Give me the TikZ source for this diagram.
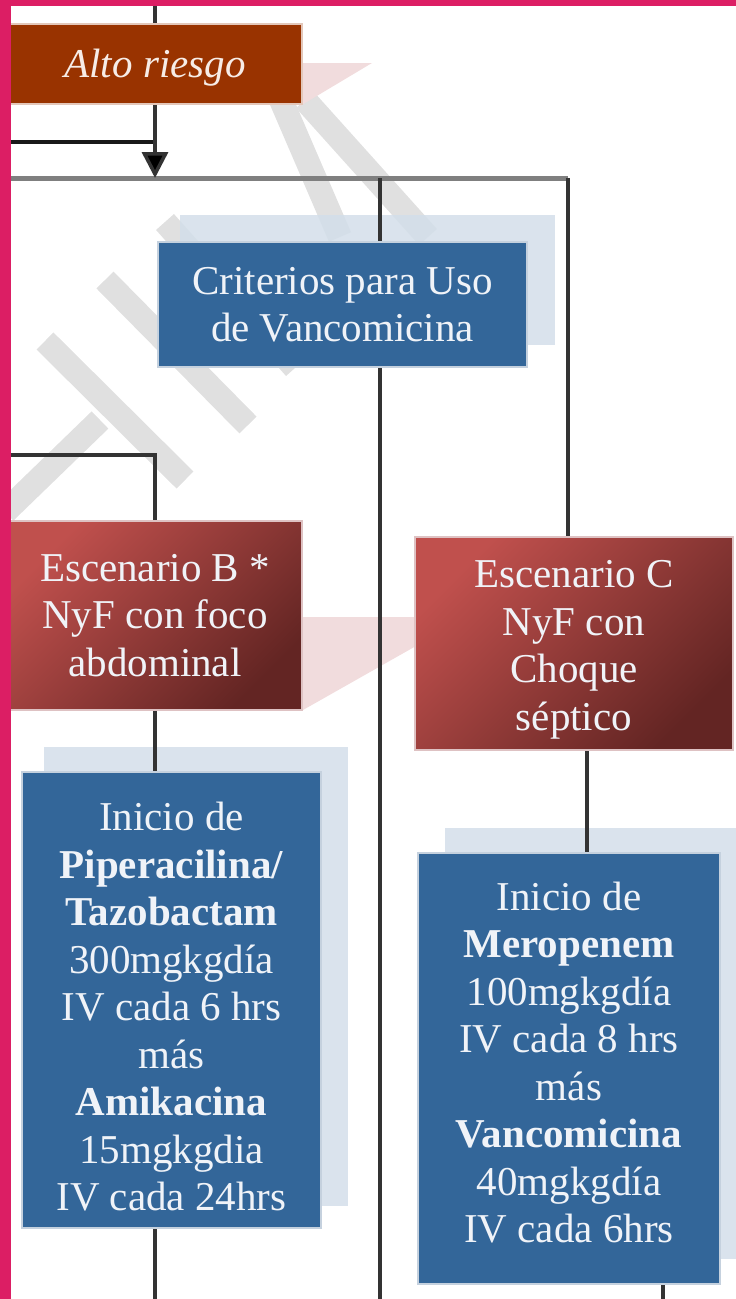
\documentclass[tikz,border=0pt]{standalone}
\usepackage{fontspec}
\setmainfont{Liberation Serif}
\usetikzlibrary{arrows.meta}
\definecolor{pinkframe}{HTML}{DC1E64}
\definecolor{altored}{HTML}{993300}
\definecolor{altoedge}{HTML}{E3C7BA}
\definecolor{altotext}{HTML}{F7ECE6}
\definecolor{boxblue}{HTML}{336699}
\definecolor{blueedge}{HTML}{C5D1DE}
\definecolor{shadowblue}{HTML}{D3DEEA}
\definecolor{bluetext}{HTML}{F0F3F8}
\definecolor{redlight}{HTML}{C0504D}
\definecolor{reddark}{HTML}{632523}
\definecolor{rededge}{HTML}{DEC2C3}
\definecolor{wirecol}{HTML}{333333}
\definecolor{buscol}{HTML}{7F7F7F}
\definecolor{wmgray}{HTML}{E0E0E0}
\definecolor{wmpink}{HTML}{F1DCDD}
\pgfdeclarelayer{wm}
\pgfdeclarelayer{bg}
\pgfdeclarelayer{fg}
\pgfsetlayers{wm,bg,main,fg}
\tikzset{
  box/.style={rectangle, inner sep=0pt, line width=2.5pt},
  txt/.style={inner sep=0pt, align=center, text=bluetext,
    font=\fontsize{41}{47.5}\selectfont},
  altobox/.style={box, fill=altored, draw=altoedge},
  bluebox/.style={box, fill=boxblue, draw=blueedge},
  redbox/.style={box, draw=rededge, top color=redlight, bottom color=reddark,
    shading angle=45},
  shadowbox/.style={fill=shadowblue, opacity=0.85},
  wire/.style={draw=wirecol, line width=3.5pt},
  blackwire/.style={draw=black!90, line width=4.5pt},
  busline/.style={draw=buscol, line width=5pt},
  wmband/.style={draw=wmgray, line width=24pt},
}
\begin{document}
\begin{tikzpicture}[x=1pt,y=-1pt]
\useasboundingbox (0,0) rectangle (736,1299);

% boxes
\node[altobox, minimum width=294pt, minimum height=80pt] (alto) at (155,64) {};
\node[bluebox, minimum width=369pt, minimum height=125pt] (crit) at (342.5,304.5) {};
\node[redbox, minimum width=294pt, minimum height=189pt] (escB) at (155,615.5) {};
\node[bluebox, minimum width=299pt, minimum height=456pt] (iniB) at (171.5,1000) {};
\node[redbox, minimum width=318pt, minimum height=213pt] (escC) at (574,643.5) {};
\node[bluebox, minimum width=302pt, minimum height=431pt] (iniC) at (569,1068.5) {};

% texts
\node[txt, text=altotext, font=\fontsize{41}{47.5}\selectfont\itshape]
  (altoT) at ([yshift=-4pt]alto.center) {Alto riesgo};
\node[txt] (critT) at (crit.center) {Criterios para Uso\\de Vancomicina};
\node[txt] (escBT) at (escB.center) {Escenario B *\\NyF con foco\\abdominal};
\node[txt] (iniBT) at ([yshift=-7pt]iniB.center)
  {Inicio de\\\textbf{Piperacilina/}\\\textbf{Tazobactam}\\300mgkgdía\\IV cada 6 hrs\\más\\\textbf{Amikacina}\\15mgkgdia\\IV cada 24hrs};
\node[txt] (escCT) at ([yshift=-6.5pt]escC.center) {Escenario C\\NyF con\\Choque\\séptico};
\node[txt] (iniCT) at ([yshift=6pt]iniC.center)
  {Inicio de\\\textbf{Meropenem}\\100mgkgdía\\IV cada 8 hrs\\más\\\textbf{Vancomicina}\\40mgkgdía\\IV cada 6hrs};

% coordinates
\coordinate (topin) at (155,0);
\coordinate (j1) at (155,142);
\coordinate (leftA) at (8,142);
\coordinate (bus) at (155,178);
\coordinate (busL) at (8,178);
\coordinate (busR) at (568,178);
\coordinate (v1top) at (380,178);
\coordinate (v1bot) at (380,1299);
\coordinate (leftB) at (8,455);
\coordinate (jB) at (155,455);
\coordinate (cC) at (587,750);
\coordinate (botB) at (155,1299);
\coordinate (botC) at (663,1299);

% watermark and shadows
\begin{pgfonlayer}{wm}
  \draw[wmband] (281,100) -- (340,237);
  \draw[wmband] (305,100) -- (428,237);
  \draw[wmband] (105,280) -- (248,425);
  \draw[wmband] (45,341) -- (185,480);
  \draw[wmband] (5,512) -- (100,420);
  \draw[wmband] (165,222) -- (295,368);
  \fill[wmpink] (290,63) -- (372,63) -- (300,106) -- cycle;
  \fill[wmpink] (303,617) -- (416,617) -- (416,646) -- (303,710) -- cycle;
  \fill[shadowbox] (180,215) rectangle (555,345);
  \fill[shadowbox] (44,747) rectangle (348,1206);
  \fill[shadowbox] (445,828) rectangle (740,1259);
\end{pgfonlayer}

% connectors
\begin{pgfonlayer}{bg}
  \draw[wire] (topin) -- (alto.north);
  \draw[blackwire] (leftA) -- (j1);
  \draw[busline] (busL) -- (busR);
  \draw[wire, -{Triangle[width=26pt,length=26pt,fill=black]}] (alto.south) -- (bus);
  \draw[wire] (v1top) -- (v1bot);
  \draw[wire] (busR) -- (busR |- escC.north);
  \draw[wire] (leftB) -- (jB) -- (escB.north);
  \draw[wire] (escB.south) -- (escB.south |- iniB.north);
  \draw[wire] (escC.south -| cC) -- (iniC.north -| cC);
  \draw[wire] (iniB.south -| botB) -- (botB);
  \draw[wire] (iniC.south -| botC) -- (botC);
\end{pgfonlayer}

% frame
\begin{pgfonlayer}{fg}
  \fill[pinkframe] (0,0) rectangle (11,1299);
  \fill[pinkframe] (0,0) rectangle (736,6);
\end{pgfonlayer}
\end{tikzpicture}
\end{document}
